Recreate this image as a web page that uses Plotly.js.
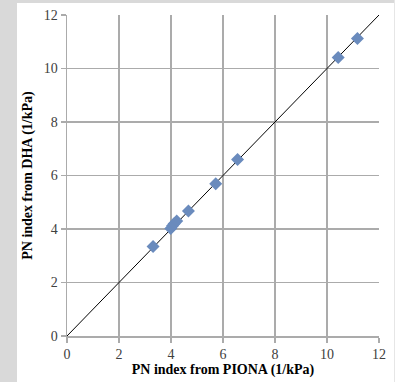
<!DOCTYPE html>
<html><head><meta charset="utf-8">
<script src="https://cdn.plot.ly/plotly-3.0.1.min.js"></script>
<style>
html,body{margin:0;padding:0;width:395px;height:382px;background:#d9d9d9;overflow:hidden}
#chart{position:absolute;left:17px;top:3px;width:377px;height:379px;background:#fff}
#edge{position:absolute;left:394px;top:0;width:1px;height:382px;background:#e6e6e6}
</style></head><body>
<div id="chart"></div><div id="edge"></div>
<script>
const pionaPN = [3.31, 3.99, 4.06, 4.12, 4.22, 4.67, 5.72, 6.56, 10.43, 11.17];
const dhaPN   = [3.35, 4.02, 4.12, 4.2, 4.3, 4.67, 5.69, 6.6, 10.41, 11.12];
const parityLine = [0, 12];
const tickVals = [0, 2, 4, 6, 8, 10, 12];
const xTitle = 'PN index from PIONA (1/kPa)';
const yTitle = 'PN index from DHA (1/kPa)';

const traces = [
  {x: parityLine, y: parityLine, mode: 'lines', line: {color: '#000', width: 1}, hoverinfo: 'skip'},
  {x: pionaPN, y: dhaPN, mode: 'markers',
   marker: {symbol: 'diamond', size: 10, color: '#6a8bbd'}}
];
const axisCommon = {
  range: [0, 12], tickvals: tickVals, showgrid: true, gridcolor: '#ababab', gridwidth: 1.5,
  showline: true, linecolor: '#ababab', linewidth: 1.5, ticks: 'outside', ticklen: 5,
  tickcolor: '#ababab', tickwidth: 1.5, zeroline: false, mirror: false,
  tickfont: {family: 'Liberation Serif', size: 14, color: '#404040'}
};
const layout = {
  width: 377, height: 379, showlegend: false,
  paper_bgcolor: '#fff', plot_bgcolor: '#fff',
  margin: {l: 50, r: 15, t: 12, b: 46},
  xaxis: Object.assign({}, axisCommon, {
    title: {text: '<b>' + xTitle + '</b>', font: {family: 'Liberation Serif', size: 14, color: '#000'}, standoff: 3}
  }),
  yaxis: Object.assign({}, axisCommon, {
    title: {text: '<b>' + yTitle + '</b>', font: {family: 'Liberation Serif', size: 14, color: '#000'}, standoff: 8}
  })
};
Plotly.newPlot('chart', traces, layout, {displayModeBar: false, staticPlot: true});
</script></body></html>
